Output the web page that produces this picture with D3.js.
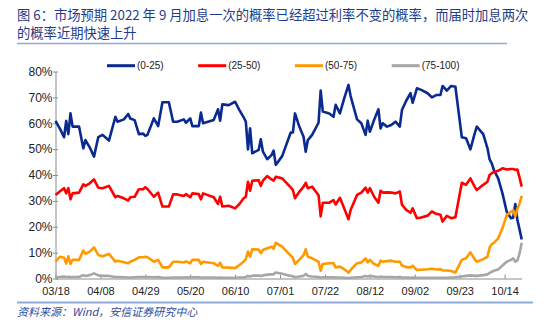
<!DOCTYPE html>
<html lang="zh">
<head>
  <meta charset="UTF-8">
  <title>图6 加息概率</title>
  <style>
    body { margin: 0; background: #fff; }
    svg { display: block; }
  </style>
</head>
<body>
  <svg id="chart" width="550" height="330"></svg>

  <script src="https://cdn.jsdelivr.net/npm/d3@7"></script>
  <script>

    var dates = [
      "03-18","03-20","03-22","03-23","03-24","03-25","03-26","03-29","03-31","04-01",
      "04-03","04-05","04-07","04-09","04-12","04-15","04-16","04-19","04-21","04-22",
      "04-24","04-26","04-28","04-29","04-30","05-03","05-05","05-07","05-10","05-12",
      "05-14","05-17","05-18","05-20","05-21","05-24","05-25","05-26","05-31","06-02",
      "06-03","06-04","06-07","06-10","06-12","06-14","06-15","06-16","06-17","06-18",
      "06-21","06-22","06-23","06-25","06-27","06-28","06-29","07-02","07-06","07-07",
      "07-08","07-10","07-12","07-13","07-14","07-16","07-19","07-20","07-21","07-24",
      "07-26","07-27","07-29","07-31","08-02","08-03","08-06","08-08","08-10","08-11",
      "08-12","08-14","08-16","08-17","08-18","08-20","08-22","08-24","08-26","08-27",
      "08-29","08-31","09-01","09-03","09-05","09-08","09-10","09-12","09-14","09-15",
      "09-17","09-19","09-21","09-24","09-26","09-28","09-30","10-01","10-04","10-06",
      "10-07","10-08","10-09","10-11","10-13","10-15","10-17","10-18","10-19","10-20",
      "10-21","10-22"];

    // (0-25)
    var rate0to25 = [
      60.9,58.0,54.6,60.9,55.8,63.8,58.7,58.7,50.3,53.5,
      50.7,47.1,54.6,55.5,53.3,62.5,60.6,61.5,63.6,61.8,
      61.2,55.8,56.0,55.1,55.5,61.9,58.9,68.1,68.1,60.6,
      60.6,61.5,60.2,61.9,58.9,58.9,64.1,60.0,61.3,65.4,
      61.0,67.3,67.0,68.3,65.1,62.3,60.6,49.9,58.0,48.4,
      49.7,53.8,49.0,46.1,47.7,49.4,43.9,47.3,56.4,56.4,
      63.8,58.7,54.8,49.0,53.5,55.5,60.2,72.6,64.5,63.8,
      62.5,67.1,63.8,69.6,74.8,70.5,61.5,60.0,55.5,61.0,
      56.7,61.3,65.4,58.0,60.0,58.7,59.3,60.6,58.7,65.1,
      68.7,71.6,67.9,73.5,72.9,71.6,70.0,70.9,70.9,74.4,
      72.6,74.4,74.1,54.6,54.2,49.9,56.0,58.7,55.8,50.3,
      46.0,44.5,41.9,38.7,32.9,25.8,23.3,23.5,28.8,22.6,
      19.0,15.1];

    // (25-50)
    var rate25to50 = [
      32.3,33.6,34.9,32.9,34.9,30.6,32.9,33.2,36.4,35.8,
      36.8,38.3,35.1,34.9,35.8,31.4,31.9,31.0,30.1,31.4,
      31.6,34.5,34.5,35.3,34.6,31.6,33.2,27.8,27.8,32.5,
      32.5,31.9,32.6,31.4,32.9,32.6,30.6,32.9,31.4,28.8,
      31.6,27.8,28.1,27.1,28.8,31.0,31.6,37.4,33.9,37.8,
      38.0,35.8,37.8,39.6,38.3,37.8,39.3,38.7,35.2,34.2,
      31.0,33.5,35.5,37.0,34.9,35.5,32.2,24.0,29.3,29.3,
      30.3,28.6,31.2,27.1,22.9,26.5,32.3,33.2,35.1,33.2,
      34.9,31.6,29.3,33.9,33.2,33.3,33.2,32.9,33.6,28.5,
      26.5,25.4,27.1,23.3,23.6,24.3,25.9,25.0,24.6,22.0,
      24.2,23.3,23.7,37.0,36.2,38.7,35.5,34.2,36.2,37.4,
      40.0,40.7,41.2,41.6,42.6,42.1,42.3,42.3,42.0,42.1,
      39.0,35.5];

    // (50-75)
    var rate50to75 = [
      6.5,8.4,8.0,5.8,8.6,5.6,7.2,7.2,10.8,9.5,
      10.4,12.0,9.1,8.6,9.5,6.5,6.9,6.3,5.9,6.5,
      7.2,8.2,8.2,8.4,8.2,6.5,7.2,4.3,4.3,6.5,
      6.5,6.2,6.6,5.9,7.2,7.2,5.6,6.5,5.9,4.9,
      6.1,4.3,4.2,4.0,5.2,6.5,7.5,10.4,8.4,11.3,
      11.2,9.8,11.0,11.7,12.3,11.5,13.8,12.3,8.8,8.0,
      5.6,7.2,9.0,11.3,8.4,7.8,6.5,3.0,5.6,5.9,
      6.0,4.3,4.6,3.6,2.3,3.3,5.9,6.2,7.8,6.2,
      7.2,5.6,4.9,6.9,6.5,6.7,6.9,6.5,6.5,5.0,
      4.4,4.3,4.9,3.3,3.4,3.6,3.8,3.5,3.6,3.1,
      3.1,2.9,2.3,7.2,7.8,10.1,7.5,6.5,7.5,8.4,
      12.0,13.3,13.8,15.5,19.5,24.5,25.8,26.5,24.0,27.0,
      29.0,31.9];

    // (75-100)
    var rate75to100 = [
      0.5,0.6,0.8,0.6,0.7,0.5,0.6,0.6,1.3,1.0,
      1.3,2.0,1.2,1.0,1.0,0.6,0.6,0.5,0.4,0.4,
      0.5,0.6,0.6,0.6,0.6,0.5,0.6,0.3,0.3,0.4,
      0.4,0.4,0.5,0.4,0.5,0.5,0.3,0.4,0.4,0.3,
      0.4,0.3,0.3,0.3,0.4,0.5,0.6,1.0,0.8,1.1,
      1.1,1.0,1.2,1.5,1.6,1.6,2.3,1.8,1.0,0.9,
      0.5,0.8,1.0,1.8,1.0,0.8,0.6,0.4,0.5,0.5,
      0.5,0.4,0.4,0.3,0.2,0.3,0.5,0.6,1.0,0.8,
      1.0,0.8,0.5,0.8,0.6,0.6,0.6,0.5,0.6,0.4,
      0.4,0.3,0.4,0.3,0.3,0.3,0.3,0.3,0.3,0.3,
      0.3,0.4,0.5,0.8,1.0,1.2,1.0,1.0,1.3,1.6,
      2.2,2.6,3.0,3.5,5.0,6.5,7.2,7.8,6.5,7.0,
      9.7,13.8];

    var seriesNames = ["(0-25)", "(25-50)", "(50-75)", "(75-100)"];
    var seriesColors = ["#0a2a90", "#ff0000", "#ff9900", "#a6a6a6"];
    var xTickDates = ["03-18","04-08","04-29","05-20","06-10","07-01","07-22","08-12","09-02","09-23","10-14"];
    var yTicks = [0, 10, 20, 30, 40, 50, 60, 70, 80];

    var titleLines = [
      "图 6：市场预期 2022 年 9 月加息一次的概率已经超过利率不变的概率，而届时加息两次",
      "的概率近期快速上升"
    ];
    var sourceText = "资料来源：Wind，安信证券研究中心";

    var svg = d3.select("#chart"),
      parse = function (s) { return d3.timeParse("%Y-%m-%d")("2022-" + s); },
      days = dates.map(parse),
      allSeries = [rate0to25, rate25to50, rate50to75, rate75to100],
      plotL = 55.5, plotR = 521.7, plotT = 71.5, plotB = 278.5;

    var x = d3.scaleTime()
      .domain(d3.extent(days))
      .range([plotL, plotR]);
    var y = d3.scaleLinear()
      .domain([0, 80])
      .range([plotB, plotT]);

    // title
    svg.selectAll(".title")
      .data(titleLines)
      .enter().append("text")
      .attr("class", "title")
      .attr("x", 17)
      .attr("y", function (d, i) { return 20 + i * 18; })
      .attr("font-family", "'Noto Sans CJK SC', sans-serif")
      .attr("font-size", 13.3)
      .attr("fill", "#1f3c88")
      .text(function (d) { return d; });

    svg.append("line")
      .attr("x1", 17).attr("x2", 507)
      .attr("y1", 43.5).attr("y2", 43.5)
      .attr("stroke", "#8eaadb").attr("stroke-width", 1.5);

    // axes
    var yAxis = svg.append("g")
      .attr("transform", "translate(" + plotL + ",0)")
      .call(d3.axisLeft(y).tickValues(yTicks).tickSizeOuter(0).tickSizeInner(0).tickPadding(3)
        .tickFormat(function (d) { return d + "%"; }));
    yAxis.selectAll(".tick line").attr("x1", -2.5).attr("x2", 2.5).attr("stroke", "#8c8c8c");

    var xAxis = svg.append("g")
      .attr("transform", "translate(0," + plotB + ")")
      .call(d3.axisBottom(x).tickValues(xTickDates.map(parse)).tickSizeOuter(0).tickSizeInner(0).tickPadding(9)
        .tickFormat(d3.timeFormat("%m/%d")));
    xAxis.selectAll(".tick line").attr("y1", -4).attr("y2", 0).attr("stroke", "#8c8c8c");

    svg.selectAll(".domain").attr("stroke", "#8c8c8c");
    svg.selectAll(".tick text")
      .attr("font-family", "'Liberation Sans', Arial, sans-serif")
      .attr("font-size", 11)
      .attr("fill", "#222");
    yAxis.selectAll(".tick text").attr("font-size", 12);

    // lines
    var line = d3.line()
      .x(function (d, i) { return x(days[i]); })
      .y(function (d) { return y(d); });

    svg.selectAll(".series")
      .data(allSeries)
      .enter().append("path")
      .attr("class", "series")
      .attr("d", line)
      .attr("fill", "none")
      .attr("stroke", function (d, i) { return seriesColors[i]; })
      .attr("stroke-width", 2.6)
      .attr("stroke-linejoin", "round");

    // legend
    var lx = 107;
    seriesNames.forEach(function (name, i) {
      var g = svg.append("g").attr("transform", "translate(" + lx + ",65.7)");
      g.append("line")
        .attr("x1", 0).attr("x2", 28)
        .attr("stroke", seriesColors[i]).attr("stroke-width", 3);
      var t = g.append("text")
        .attr("x", 30).attr("dy", "0.35em")
        .attr("font-family", "'Liberation Sans', Arial, sans-serif")
        .attr("font-size", 10)
        .attr("fill", "#222")
        .text(name);
      lx += 30 + t.node().getComputedTextLength() + 34.5;
    });

    // source
    svg.append("line")
      .attr("x1", 17).attr("x2", 533)
      .attr("y1", 302.5).attr("y2", 302.5)
      .attr("stroke", "#8eaadb").attr("stroke-width", 2);

    svg.append("text")
      .attr("x", 17).attr("y", 315.5)
      .attr("font-family", "'Noto Sans CJK SC', sans-serif")
      .attr("font-size", 11)
      .attr("font-style", "italic")
      .attr("fill", "#2a4d9f")
      .text(sourceText);

  </script>
</body>
</html>
